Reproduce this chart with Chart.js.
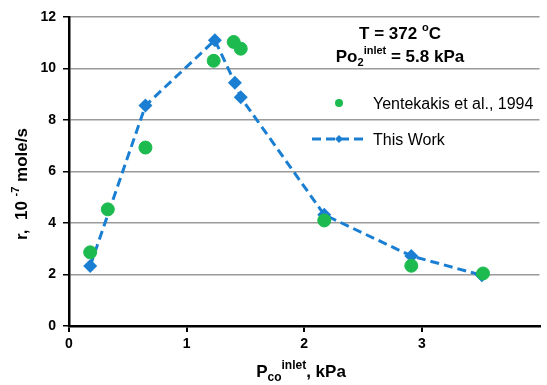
<!DOCTYPE html>
<html>
<head>
<meta charset="utf-8">
<script src="https://cdn.jsdelivr.net/npm/chart.js@4"></script>
<style>
  html, body { margin: 0; padding: 0; background: #fff; }
  #wrap { width: 547px; height: 385px; }
</style>
</head>
<body>
<div id="wrap"><canvas id="chart" width="547" height="385"></canvas></div>
<script>
// Yentekakis et al., 1994 (green dots)
const litX = [0.18, 0.33, 0.65, 1.23, 1.40, 1.46, 2.17, 2.91, 3.52];
const litY = [2.86, 4.53, 6.93, 10.3, 11.03, 10.77, 4.1, 2.34, 2.04];
// This Work (blue dashed line, diamonds)
const workX = [0.18, 0.65, 1.24, 1.41, 1.46, 2.17, 2.91, 3.51];
const workY = [2.33, 8.56, 11.1, 9.45, 8.88, 4.32, 2.72, 1.97];

const yTicks = [0, 2, 4, 6, 8, 10, 12];
const xTicks = [0, 1, 2, 3];

const FONT = '"Liberation Sans", Arial, sans-serif';
const BLUE = '#1a7fd2';
const GREEN = '#1dbb4f';

const toPoints = (xs, ys) => xs.map((x, i) => ({ x, y: ys[i] }));

// draws a run of text pieces: [text, size, bold, dy]
function drawRuns(ctx, runs, x, y, align) {
  let total = 0;
  runs.forEach(r => {
    ctx.font = (r[2] ? 'bold ' : '') + r[1] + 'px ' + FONT;
    total += ctx.measureText(r[0]).width;
  });
  let cx = align === 'center' ? x - total / 2 : x;
  ctx.textAlign = 'left';
  ctx.textBaseline = 'alphabetic';
  runs.forEach(r => {
    ctx.font = (r[2] ? 'bold ' : '') + r[1] + 'px ' + FONT;
    ctx.fillText(r[0], cx, y + (r[3] || 0));
    cx += ctx.measureText(r[0]).width;
  });
}

const textPlugin = {
  id: 'texts',
  afterDraw(chart) {
    const ctx = chart.ctx;
    ctx.save();
    ctx.fillStyle = '#000';

    // condition box
    drawRuns(ctx, [['T = 372 ', 17, true], ['o', 11, true, -8], ['C', 17, true]], 400, 39, 'center');
    drawRuns(ctx, [['Po', 17, true], ['2', 11, true, 4], ['inlet', 11, true, -8], [' = 5.8 kPa', 17, true]], 400, 62, 'center');

    // legend
    ctx.fillStyle = GREEN;
    ctx.beginPath();
    ctx.arc(339, 103, 4, 0, Math.PI * 2);
    ctx.fill();

    ctx.strokeStyle = BLUE;
    ctx.lineWidth = 3;
    ctx.setLineDash([9, 5]);
    ctx.beginPath();
    ctx.moveTo(312, 139);
    ctx.lineTo(368, 139);
    ctx.stroke();
    ctx.setLineDash([]);
    ctx.fillStyle = BLUE;
    ctx.beginPath();
    ctx.moveTo(339, 135);
    ctx.lineTo(343, 139);
    ctx.lineTo(339, 143);
    ctx.lineTo(335, 139);
    ctx.closePath();
    ctx.fill();

    ctx.fillStyle = '#000';
    drawRuns(ctx, [['Yentekakis et al., 1994', 16, false]], 373, 109, 'left');
    drawRuns(ctx, [['This Work', 16, false]], 373, 145, 'left');

    // x axis title
    drawRuns(ctx, [['P', 17, true], ['co', 12, true, 4], ['inlet', 12, true, -8], [', kPa', 17, true]], 301, 377, 'center');

    // y axis title
    ctx.translate(27, 184);
    ctx.rotate(-Math.PI / 2);
    drawRuns(ctx, [['r,  10 ', 17, true], ['-7', 11, true, -8], [' mole/s', 17, true]], 0, 0, 'center');
    ctx.restore();
  }
};

new Chart(document.getElementById('chart'), {
  type: 'scatter',
  data: {
    datasets: [
      {
        label: 'Yentekakis et al., 1994',
        data: toPoints(litX, litY),
        backgroundColor: GREEN,
        borderColor: GREEN,
        pointRadius: 6.5,
        pointHoverRadius: 6.5,
        pointStyle: 'circle',
        order: 0
      },
      {
        label: 'This Work',
        data: toPoints(workX, workY),
        showLine: true,
        borderColor: BLUE,
        backgroundColor: BLUE,
        borderWidth: 3,
        borderDash: [9, 5],
        pointStyle: 'rectRot',
        pointRadius: 7,
        pointHoverRadius: 7,
        pointBorderWidth: 0,
        tension: 0,
        order: 1
      }
    ]
  },
  options: {
    responsive: false,
    animation: false,
    devicePixelRatio: 1,
    layout: { padding: { top: 17, right: 0, left: 0, bottom: 0 } },
    plugins: {
      legend: { display: false },
      tooltip: { enabled: false }
    },
    scales: {
      x: {
        type: 'linear',
        min: 0,
        max: 4,
        afterFit(scale) { scale.height = 59; },
        afterBuildTicks(scale) { scale.ticks = xTicks.map(v => ({ value: v })); },
        border: { color: '#000', width: 2.5 },
        grid: { display: true, drawOnChartArea: false, tickLength: 6, tickColor: '#000', lineWidth: 2 },
        ticks: {
          color: '#000',
          padding: 4,
          font: { family: FONT, size: 14, weight: 'bold' }
        }
      },
      y: {
        min: 0,
        max: 12,
        afterFit(scale) { scale.width = 69; },
        afterBuildTicks(scale) { scale.ticks = yTicks.map(v => ({ value: v })); },
        border: { color: '#000', width: 2.5 },
        grid: { color: '#9a9a9a', lineWidth: 1.5, tickLength: 6, tickColor: '#000' },
        ticks: {
          color: '#000',
          padding: 7,
          font: { family: FONT, size: 14, weight: 'bold' }
        }
      }
    }
  },
  plugins: [textPlugin]
});
</script>
</body>
</html>
